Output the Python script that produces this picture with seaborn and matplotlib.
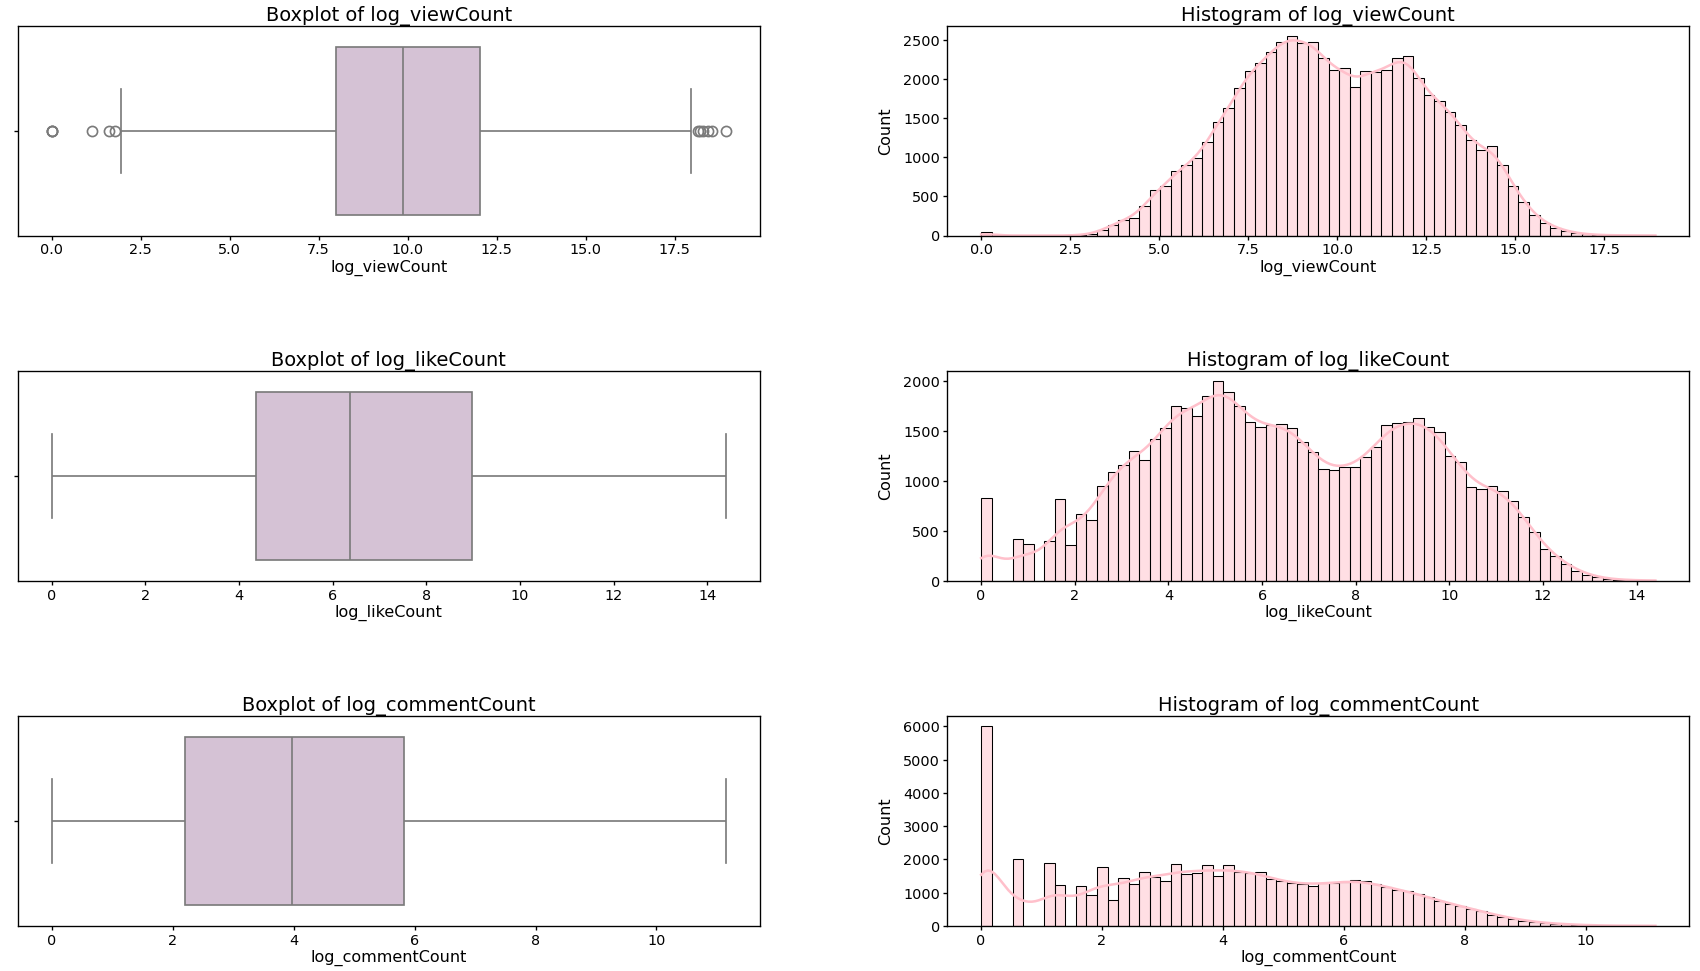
import numpy as np
import pandas as pd
import matplotlib
matplotlib.use('Agg')
import matplotlib.pyplot as plt
import seaborn as sns

columns = ['log_viewCount', 'log_likeCount', 'log_commentCount']

# upper end of each log column (histogram range starts at 0)
hist_max = [18.94, 14.40, 11.15]

# histogram counts, 64 bins each
view_counts = [40, 0, 0, 0, 0, 0, 0, 0, 1, 5,
               20, 68, 137, 205, 230, 376, 577, 632, 829, 897,
               996, 1201, 1457, 1624, 1880, 2098, 2201, 2342, 2479, 2556,
               2457, 2479, 2265, 2115, 2141, 1902, 2098, 2094, 2120, 2274,
               2291, 2017, 1795, 1718, 1585, 1415, 1218, 1090, 1141, 906,
               637, 432, 269, 162, 103, 60, 30, 17, 8, 4,
               3, 2, 1, 1]
like_counts = [832, 0, 0, 416, 370, 0, 399, 816, 353, 666,
               606, 952, 1085, 1155, 1302, 1212, 1415, 1531, 1751, 1731,
               1651, 1851, 2001, 1891, 1751, 1588, 1538, 1555, 1571, 1531,
               1391, 1285, 1118, 1108, 1135, 1135, 1242, 1341, 1555, 1575,
               1588, 1628, 1538, 1488, 1245, 1185, 942, 922, 945, 902,
               796, 642, 483, 316, 243, 170, 97, 60, 33, 17,
               10, 6, 3, 2]
comment_counts = [6020, 0, 0, 2000, 0, 0, 1880, 1230, 0, 1210,
                  930, 1760, 770, 1440, 1270, 1630, 1470, 1350, 1860, 1560,
                  1590, 1830, 1490, 1830, 1610, 1600, 1610, 1410, 1340, 1290,
                  1270, 1210, 1290, 1300, 1320, 1380, 1340, 1250, 1170, 1090,
                  1040, 950, 870, 740, 670, 600, 510, 450, 340, 280,
                  220, 160, 110, 90, 60, 50, 30, 20, 10, 5,
                  4, 3, 2, 1]

# boxplot stats: whisker low, Q1, median, Q3, whisker high
view_box = [1.94, 7.98, 9.86, 12.04, 17.96]
like_box = [0.0, 4.36, 6.37, 8.98, 14.40]
comment_box = [0.0, 2.20, 3.97, 5.82, 11.15]
view_low_out = [0.0, 0.0, 0.0, 1.12, 1.60, 1.79]
view_high_out = [18.15, 18.22, 18.30, 18.42, 18.55, 18.94]


def box_sample(stats, low=(), high=(), n=30):
    # small sample whose quartiles / whiskers reproduce the read-off stats
    lo, q1, med, q3, hi = stats
    vals = list(low) + [lo] + [q1] * n + [med] * n + [q3] * n + [hi] + list(high)
    return np.array(vals)


box_samples = [box_sample(view_box, view_low_out, view_high_out),
               box_sample(like_box),
               box_sample(comment_box)]
hist_counts = [view_counts, like_counts, comment_counts]

plt.rcParams.update({
    'xtick.labelsize': 8.5,
    'ytick.labelsize': 8.5,
    'axes.labelsize': 9.5,
    'axes.titlesize': 11.5,
    'axes.titlepad': 3.2,
    'axes.labelpad': 1.2,
    'xtick.major.size': 2.2,
    'ytick.major.size': 2.2,
    'xtick.major.pad': 2.2,
    'ytick.major.pad': 2.2,
})

fig, axes = plt.subplots(3, 2, figsize=(14, 8))
plt.subplots_adjust(left=0.0106, right=0.9936, top=0.9733, bottom=0.0465,
                    wspace=0.253, hspace=0.643)

for i, col in enumerate(columns):
    # Boxplot
    sample = pd.Series(box_samples[i], name=col)
    sns.boxplot(x=sample, ax=axes[i, 0], color='thistle')
    axes[i, 0].set_title(f'Boxplot of {col}')

    # Histogram with KDE
    counts = np.array(hist_counts[i], dtype=float)
    edges = np.linspace(0, hist_max[i], len(counts) + 1)
    centers = (edges[:-1] + edges[1:]) / 2
    df = pd.DataFrame({col: centers, 'n': counts})
    neff = counts.sum() ** 2 / (counts ** 2).sum()
    adj = (neff / counts.sum()) ** 0.2
    sns.histplot(data=df, x=col, weights='n', bins=edges.tolist(), kde=True,
                 color='pink', ax=axes[i, 1],
                 kde_kws={'bw_adjust': adj, 'cut': 1, 'clip': (0, hist_max[i])})
    axes[i, 1].set_title(f'Histogram of {col}')
    axes[i, 1].set_ylabel('Count', labelpad=6)

fig.savefig('out.png', dpi=1700 / 14)
